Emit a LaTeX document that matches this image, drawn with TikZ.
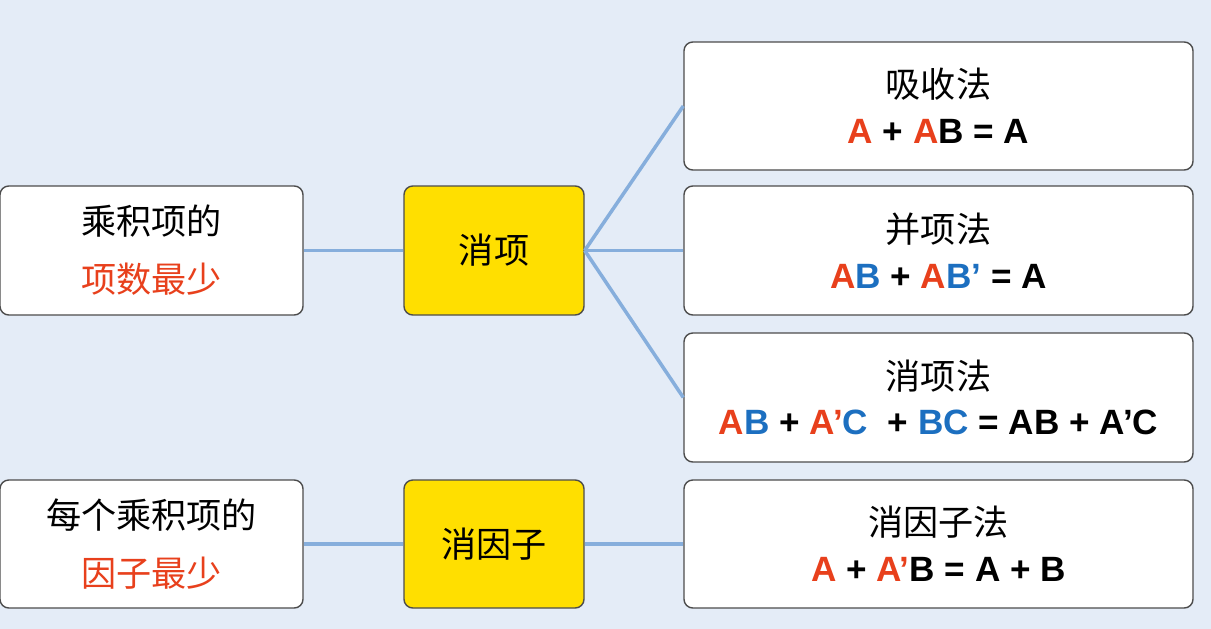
\documentclass[tikz,border=0pt]{standalone}
\usepackage{fontspec}
\setmainfont{Liberation Sans}
\newfontfamily\cjk{Noto Sans CJK SC}
\definecolor{bg}{HTML}{E4ECF7}
\definecolor{rd}{HTML}{E8401C}
\definecolor{bl}{HTML}{1C6FC0}
\definecolor{yl}{HTML}{FFDF00}
\definecolor{ln}{HTML}{86AEDC}
\tikzset{
 box/.style={draw=black!70, line width=0.8pt, rounded corners=5pt, fill=white, align=center, inner sep=0pt},
 ybox/.style={box, fill=yl},
 conn/.style={draw=ln, line width=2pt}
}
\newcommand{\R}[1]{\textcolor{rd}{#1}}
\newcommand{\B}[1]{\textcolor{bl}{#1}}
\begin{document}
\begin{tikzpicture}[x=0.02cm,y=-0.02cm]
\fill[bg] (0,0) rectangle (1211,629);
\useasboundingbox (0,0) rectangle (1211,629);
\fontsize{20}{26}\selectfont
\node[box, minimum width=303*0.02cm, minimum height=129*0.02cm] (l1) at (151.5,250.5) {\cjk 乘积项的\\[7pt]\cjk\color{rd}项数最少};
\node[box, minimum width=303*0.02cm, minimum height=128*0.02cm] (l2) at (151.5,544) {\cjk 每个乘积项的\\[7pt]\cjk\color{rd}因子最少};
\node[ybox, minimum width=180*0.02cm, minimum height=129*0.02cm] (m1) at (494,250.5) {\cjk 消项};
\node[ybox, minimum width=180*0.02cm, minimum height=128*0.02cm] (m2) at (494,544) {\cjk 消因子};
\node[box, minimum width=509*0.02cm, minimum height=128*0.02cm] (r1) at (938.5,106) {\cjk 吸收法\\\bfseries \R{A} + \R{A}B = A};
\node[box, minimum width=509*0.02cm, minimum height=129*0.02cm] (r2) at (938.5,250.5) {\cjk 并项法\\\bfseries \R{A}\B{B} + \R{A}\B{B’} = A};
\node[box, minimum width=509*0.02cm, minimum height=129*0.02cm] (r3) at (938.5,397.5) {\cjk 消项法\\\bfseries \R{A}\B{B} + \R{A’}\B{C} \ + \B{BC} = AB + A’C};
\node[box, minimum width=509*0.02cm, minimum height=128*0.02cm] (r4) at (938.5,544) {\cjk 消因子法\\\bfseries \R{A} + \R{A’}B = A + B};
\draw[conn] (l1.east) -- (m1.west);
\draw[conn] (l2.east) -- (m2.west);
\draw[conn] (m1.east) -- (r1.west);
\draw[conn] (m1.east) -- (r2.west);
\draw[conn] (m1.east) -- (r3.west);
\draw[conn] (m2.east) -- (r4.west);
\end{tikzpicture}
\end{document}
